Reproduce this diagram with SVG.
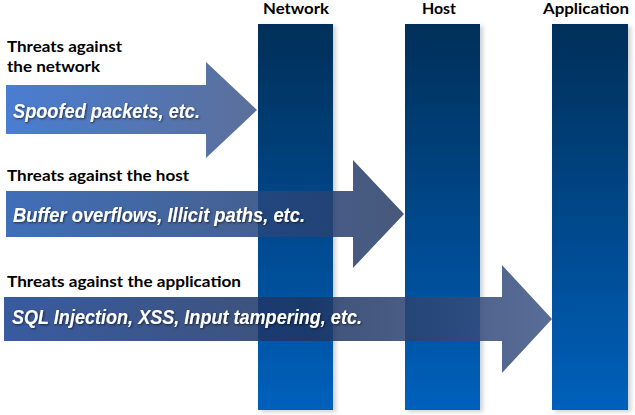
<svg xmlns="http://www.w3.org/2000/svg" width="635" height="415" viewBox="0 0 635 415">
<defs>
<linearGradient id="colG" x1="0" y1="0" x2="0" y2="1">
<stop offset="0" stop-color="#002f59"/>
<stop offset="1" stop-color="#0060bb"/>
</linearGradient>
<linearGradient id="a1" gradientUnits="userSpaceOnUse" x1="6" y1="0" x2="257" y2="0">
<stop offset="0" stop-color="#4a7dd2"/>
<stop offset="1" stop-color="#5b6f9a"/>
</linearGradient>
<linearGradient id="a2" gradientUnits="userSpaceOnUse" x1="6" y1="0" x2="404" y2="0">
<stop offset="0" stop-color="#2157ac" stop-opacity="0.86"/>
<stop offset="1" stop-color="#2a3d65" stop-opacity="0.86"/>
</linearGradient>
<linearGradient id="a3" gradientUnits="userSpaceOnUse" x1="4" y1="0" x2="552" y2="0">
<stop offset="0" stop-color="#184090" stop-opacity="0.86"/>
<stop offset="0.55" stop-color="#1f3562" stop-opacity="0.86"/>
<stop offset="1" stop-color="#3d5586" stop-opacity="0.86"/>
</linearGradient>
<filter id="sh" x="-20%" y="-5%" width="150%" height="110%">
<feDropShadow dx="3" dy="2" stdDeviation="2" flood-color="#000" flood-opacity="0.18"/>
</filter>
<filter id="tsh" x="-5%" y="-30%" width="110%" height="160%">
<feDropShadow dx="1" dy="1" stdDeviation="0.8" flood-color="#000" flood-opacity="0.6"/>
</filter>
</defs>
<style>
.col{fill:url(#colG);filter:url(#sh)}
.hdr{font-family:Lato,"Noto Sans",sans-serif;font-weight:bold;font-size:15px;fill:#000}
.lbl{font-family:Lato,"Noto Sans",sans-serif;font-weight:bold;font-size:15px;fill:#000}
.in{font-family:"Liberation Sans",Arial,sans-serif;font-weight:bold;font-style:italic;font-size:21px;fill:#fff;filter:url(#tsh)}
</style>
<g id="columns">
<g id="col-network"><rect class="col" x="258" y="24" width="75" height="386"/><text class="hdr" x="263" y="14" textLength="66" lengthAdjust="spacingAndGlyphs">Network</text></g>
<g id="col-host"><rect class="col" x="405" y="24" width="75" height="386"/><text class="hdr" x="422" y="14" textLength="34" lengthAdjust="spacingAndGlyphs">Host</text></g>
<g id="col-application"><rect class="col" x="552" y="24" width="76" height="386"/><text class="hdr" x="543" y="14" textLength="86" lengthAdjust="spacingAndGlyphs">Application</text></g>
</g>
<g id="connectors">
<g id="arrow-network">
<path d="M6 85 H206 V62 L257 110 L206 158 V134 H6 Z" fill="url(#a1)"/>
<text class="lbl" x="7" y="52" textLength="115" lengthAdjust="spacingAndGlyphs">Threats against</text>
<text class="lbl" x="7" y="72" textLength="93" lengthAdjust="spacingAndGlyphs">the network</text>
<text class="in" x="13" y="118" textLength="187" lengthAdjust="spacingAndGlyphs">Spoofed packets, etc.</text>
</g>
<g id="arrow-host">
<path d="M6 191 H353 V160 L404 214 L353 268 V237 H6 Z" fill="url(#a2)"/>
<text class="lbl" x="7" y="181" textLength="182" lengthAdjust="spacingAndGlyphs">Threats against the host</text>
<text class="in" x="13" y="222" textLength="292" lengthAdjust="spacingAndGlyphs">Buffer overflows, Illicit paths, etc.</text>
</g>
<g id="arrow-application">
<path d="M4 297 H502 V265 L552 319 L502 373 V341 H4 Z" fill="url(#a3)"/>
<text class="lbl" x="7" y="287" textLength="234" lengthAdjust="spacingAndGlyphs">Threats against the application</text>
<text class="in" x="12" y="324" textLength="350" lengthAdjust="spacingAndGlyphs">SQL Injection, XSS, Input tampering, etc.</text>
</g>
</g>
</svg>
